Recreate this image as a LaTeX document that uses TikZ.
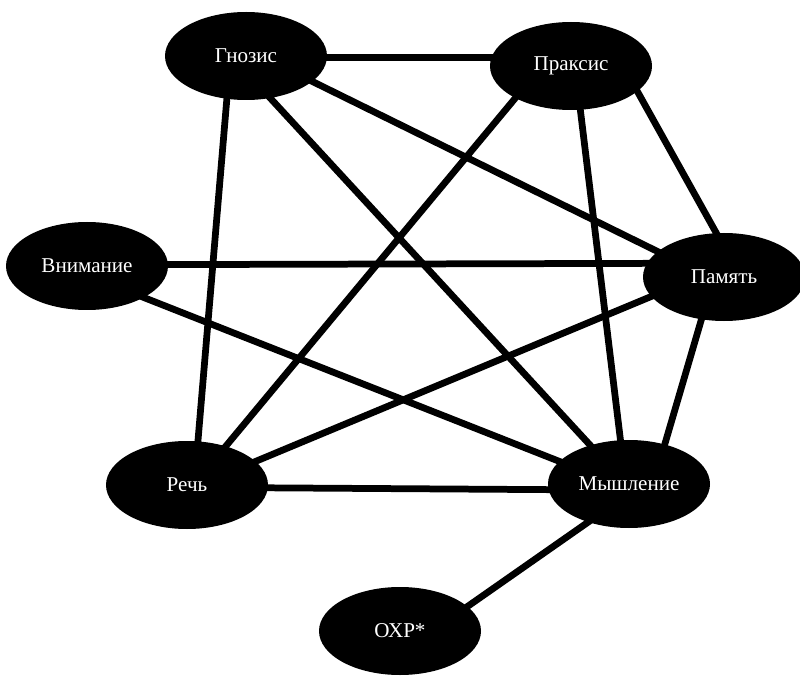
\documentclass[tikz,border=0pt]{standalone}
\usepackage{fontspec}
\setmainfont{Liberation Serif}
\usepackage{tikz}
\usetikzlibrary{shapes.geometric,backgrounds}
\tikzstyle{area} = [ellipse, fill=black, text=white, inner sep=0pt, minimum width=4.05cm, minimum height=2.2cm, font=\fontsize{15}{18}\selectfont]
\tikzstyle{link} = [line width=4.8pt, shorten <=-5pt, shorten >=-5pt]

\begin{document}
\begin{tikzpicture}
    \useasboundingbox (0,0) rectangle (20,16.875);

    \node (gnosis) [area] at (6.15,15.475) {Гнозис};
    \node (praxis) [area] at (14.275,15.225) {Праксис};
    \node (attention) [area] at (2.175,10.225) {Внимание};
    \node (memory) [area] at (18.1,9.95) {Память};
    \node (speech) [area] at (4.675,4.75) {Речь};
    \node (thinking) [area] at (15.725,4.775) {Мышление};
    \node (ocd) [area] at (10,1.1) {ОХР*};

    % connections behind the ellipses
    \begin{pgfonlayer}{background}
    \draw [link] (gnosis.-1.4) -- (praxis.174.4);
    \draw [link] (gnosis.-114.2) -- (speech.76.8);
    \draw [link] (gnosis.-60.3) -- (thinking.135.7);
    \draw [link] (gnosis.-21.2) -- (memory.159.6);
    \draw [link] (praxis.-150.3) -- (speech.45.9);
    \draw [link] (praxis.-78.4) -- (thinking.101.6);
    \draw [link] (praxis.-21.6) -- (memory.100.5);
    \draw [link] (attention.1.4) -- (memory.170.5);
    \draw [link] (attention.-29.3) -- (thinking.162);
    \draw [link] (memory.-165.6) -- (speech.19.7);
    \draw [link] (memory.-118.6) -- (thinking.48);
    \draw [link] (speech.-2.4) -- (thinking.184.3);
    \draw [link] (thinking.-137.2) -- (ocd.20.5);
    \end{pgfonlayer}

\end{tikzpicture}
\end{document}
